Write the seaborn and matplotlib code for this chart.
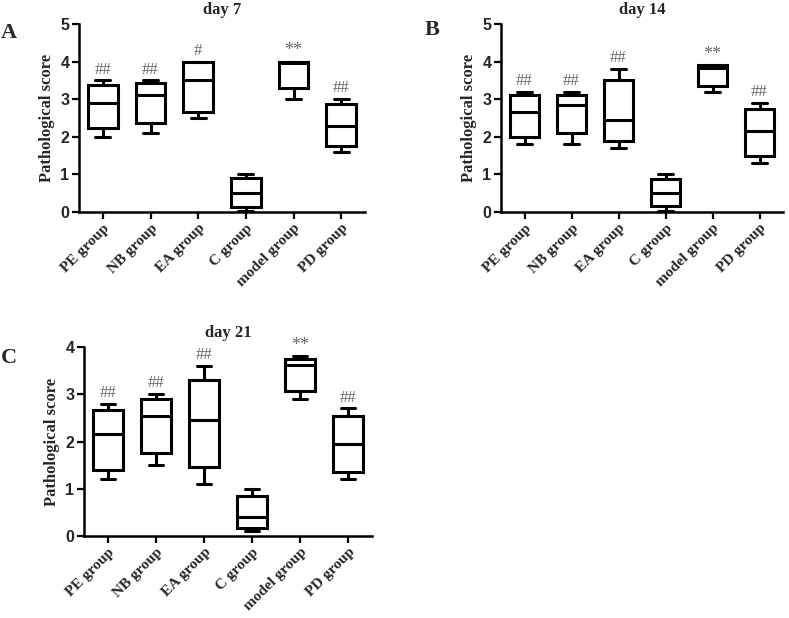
import numpy as np
import pandas as pd
import matplotlib
matplotlib.use("Agg")
import matplotlib.pyplot as plt
import seaborn as sns

# five-number summaries: [min, q1, median, q3, max]
groups = ["PE group", "NB group", "EA group", "C group", "model group", "PD group"]

day7 = [[2.0, 2.23, 2.9, 3.37, 3.5],
        [2.1, 2.36, 3.1, 3.42, 3.5],
        [2.5, 2.66, 3.5, 4.0, 4.0],
        [0.03, 0.13, 0.5, 0.9, 1.0],
        [3.0, 3.3, 3.96, 4.0, 4.0],
        [1.6, 1.76, 2.3, 2.86, 3.0]]
day14 = [[1.8, 2.0, 2.65, 3.1, 3.2],
         [1.8, 2.1, 2.85, 3.12, 3.2],
         [1.7, 1.9, 2.45, 3.5, 3.8],
         [0.03, 0.15, 0.5, 0.87, 1.0],
         [3.2, 3.36, 3.83, 3.9, 3.9],
         [1.3, 1.48, 2.15, 2.75, 2.9]]
day21 = [[1.2, 1.4, 2.15, 2.67, 2.8],
         [1.5, 1.75, 2.55, 2.9, 3.0],
         [1.1, 1.45, 2.45, 3.3, 3.6],
         [0.1, 0.17, 0.4, 0.85, 1.0],
         [2.9, 3.07, 3.62, 3.75, 3.8],
         [1.2, 1.35, 1.95, 2.55, 2.7]]

marks7 = ["##", "##", "#", "", "**", "##"]
marks14 = ["##", "##", "##", "", "**", "##"]
marks21 = ["##", "##", "##", "", "**", "##"]

sns.set_style("ticks")
serif = "Liberation Serif"
sans = "Liberation Sans"

fig = plt.figure(figsize=(7.89, 6.18), dpi=100)


def panel(rect, stats, marks, title, ymax):
    ax = fig.add_axes(rect)
    df = pd.DataFrame({"group": np.repeat(groups, 5), "score": np.ravel(stats)})
    # with 5 points per group, the quartiles seaborn computes are exactly the read values
    sns.boxplot(data=df, x="group", y="score", order=groups, ax=ax,
                width=0.62, whis=(0, 100), color="white", linecolor="black",
                linewidth=2.2, saturation=1)
    ax.set_xlim(-0.5, 5.5)
    ax.set_ylim(0, ymax)
    ax.set_yticks(range(ymax + 1))
    ax.set_xlabel("")
    ax.set_ylabel("Pathological score", fontsize=12, fontweight="bold",
                  family=serif, labelpad=4)
    ax.set_title(title, fontsize=12, fontweight="bold", family=serif, pad=7)
    ax.set_xticks(range(len(groups)))
    ax.set_xticklabels(groups, rotation=45, ha="right", rotation_mode="anchor",
                       fontsize=11, fontweight="bold", family=serif)
    for lbl in ax.get_yticklabels():
        lbl.set_family(sans)
        lbl.set_fontweight("bold")
        lbl.set_fontsize(11.5)
    ax.tick_params(axis="both", width=1.6, length=5, color="black", pad=2)
    sns.despine(ax=ax)
    for s in ["left", "bottom"]:
        ax.spines[s].set_linewidth(1.8)
        ax.spines[s].set_color("black")
    for i, m in enumerate(marks):
        if m:
            ax.annotate(m, (i, max(stats[i])), xytext=(0, 2),
                        textcoords="offset points", ha="center", va="bottom",
                        fontsize=13 if m == "**" else 12, color="#666666",
                        family=serif)
    return ax


panel([79 / 789, 1 - 212 / 618, 286 / 789, 188 / 618], day7, marks7, "day 7", 5)
panel([501 / 789, 1 - 212 / 618, 282 / 789, 188 / 618], day14, marks14, "day 14", 5)
panel([84 / 789, 1 - 536 / 618, 288 / 789, 189 / 618], day21, marks21, "day 21", 4)

for letter, x, y in [("A", 9, 33), ("B", 432, 30), ("C", 9, 358)]:
    fig.text(x / 789, 1 - y / 618, letter, fontsize=16, fontweight="bold",
             family=serif, ha="center", va="center")

fig.savefig("out.png", dpi=100)
